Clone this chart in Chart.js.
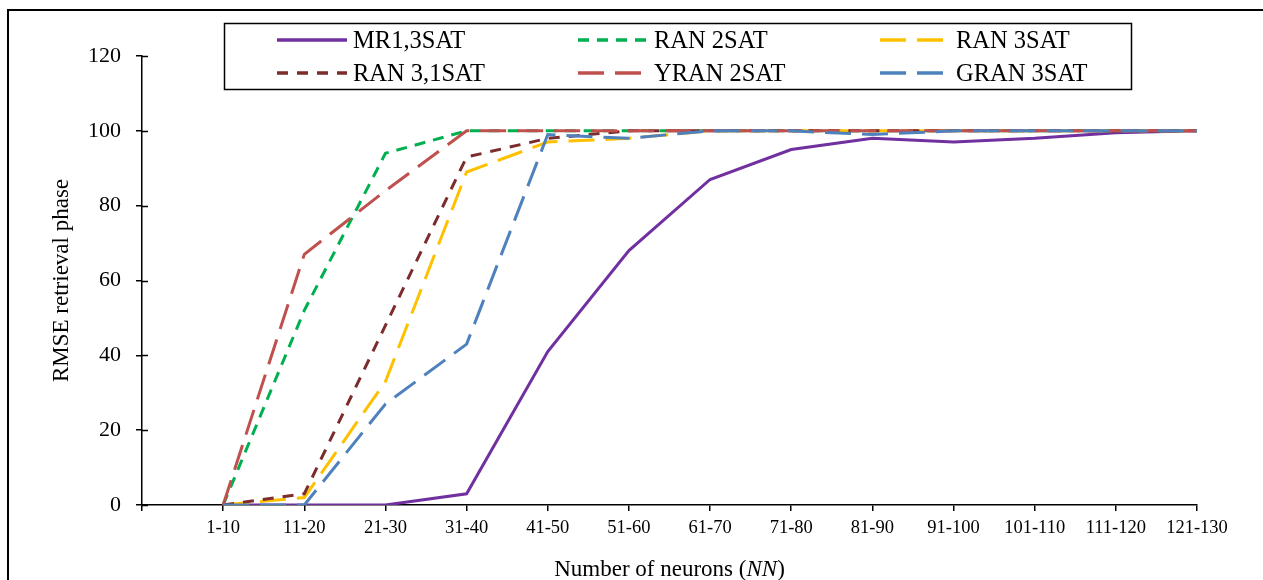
<!DOCTYPE html>
<html>
<head>
<meta charset="utf-8">
<script src="https://cdn.jsdelivr.net/npm/chart.js@4/dist/chart.umd.min.js"></script>
<style>
  html, body { margin: 0; padding: 0; background: #fff; }
  #wrap { position: relative; width: 1263px; height: 580px; }
</style>
</head>
<body>
<div id="wrap"><canvas id="rmseChart"></canvas></div>
<script>
// Data
const categories = ['1-10', '11-20', '21-30', '31-40', '41-50', '51-60', '61-70',
    '71-80', '81-90', '91-100', '101-110', '111-120', '121-130'];
const yTicks = [0, 20, 40, 60, 80, 100, 120];

const mr13sat  = [0, 0, 0, 3, 41, 68, 87, 95, 98, 97, 98, 99.5, 100];
const ran2sat  = [0, 52, 94, 100, 100, 100, 100, 100, 100, 100, 100, 100, 100];
const ran3sat  = [0, 2, 33, 89, 97, 98, 100, 100, 100, 100, 100, 100, 100];
const ran31sat = [0, 3, 48, 93, 98, 100, 100, 100, 100, 100, 100, 100, 100];
const yran2sat = [0, 67, 84, 100, 100, 100, 100, 100, 100, 100, 100, 100, 100];
const gran3sat = [0, 0, 27, 43, 99, 98, 100, 100, 99, 100, 100, 100, 100];

const SERIF = "'Liberation Serif', 'Times New Roman', serif";

// category i sits at x = i + 1 so the y axis gets an empty slot on the left
const toPoints = vals => vals.map((v, i) => ({ x: i + 1, y: v }));

function series(label, vals, color, dash, order) {
    return {
        label,
        data: toPoints(vals),
        borderColor: color,
        backgroundColor: color,
        borderWidth: 3,
        borderDash: dash,
        pointRadius: 0,
        tension: 0,
        fill: false,
        order
    };
}

// frame, inner half of the y ticks, boxed 3-column legend and the x title
const extras = {
    id: 'extras',
    beforeDraw(chart) {
        const ctx = chart.ctx;
        ctx.save();
        ctx.strokeStyle = '#000';
        ctx.lineWidth = 2;
        ctx.strokeRect(8, 10, 2000, 2000);
        ctx.restore();
    },
    afterDraw(chart) {
        const ctx = chart.ctx;
        const y = chart.scales.y;
        const area = chart.chartArea;
        ctx.save();

        ctx.strokeStyle = '#000';
        ctx.lineWidth = 1.5;
        yTicks.forEach(t => {
            const py = Math.round(y.getPixelForValue(t)) + 0.5;
            ctx.beginPath();
            ctx.moveTo(area.left, py);
            ctx.lineTo(area.left + 6, py);
            ctx.stroke();
        });

        // legend box
        ctx.lineWidth = 1.5;
        ctx.strokeRect(224.5, 23.5, 907, 66);
        ctx.font = '24.5px ' + SERIF;
        ctx.fillStyle = '#000';
        ctx.textBaseline = 'alphabetic';
        const colX = [277, 578, 880];
        const rowY = [40, 73];
        chart.data.datasets.forEach((ds, i) => {
            const cx = colX[i % 3];
            const cy = rowY[Math.floor(i / 3)];
            ctx.strokeStyle = ds.borderColor;
            ctx.lineWidth = 3.5;
            ctx.setLineDash(ds.borderDash || []);
            ctx.beginPath();
            ctx.moveTo(cx, cy);
            ctx.lineTo(cx + 70, cy);
            ctx.stroke();
            ctx.setLineDash([]);
            ctx.fillText(ds.label, cx + 76, cy + 8);
        });

        // x axis title with italic NN
        const parts = [
            { t: 'Number of neurons (', f: '23px ' + SERIF },
            { t: 'NN', f: 'italic 23px ' + SERIF },
            { t: ')', f: '23px ' + SERIF }
        ];
        let total = 0;
        parts.forEach(p => { ctx.font = p.f; p.w = ctx.measureText(p.t).width; total += p.w; });
        let tx = (area.left + area.right) / 2 - total / 2;
        ctx.textAlign = 'left';
        parts.forEach(p => { ctx.font = p.f; ctx.fillText(p.t, tx, 576); tx += p.w; });

        ctx.restore();
    }
};

const ctx = document.getElementById('rmseChart').getContext('2d');

new Chart(ctx, {
    type: 'line',
    data: {
        datasets: [
            series('MR1,3SAT', mr13sat, '#7030A0', [], 6),
            series('RAN 2SAT', ran2sat, '#00B050', [11, 8], 5),
            series('RAN 3SAT', ran3sat, '#FFC000', [26, 11], 4),
            series('RAN 3,1SAT', ran31sat, '#7B2C2C', [11, 9], 3),
            series('YRAN 2SAT', yran2sat, '#C0504D', [26, 11], 2),
            series('GRAN 3SAT', gran3sat, '#4F81BD', [26, 11], 1)
        ]
    },
    options: {
        responsive: true,
        maintainAspectRatio: false,
        animation: false,
        layout: { padding: { left: 0, right: 66, top: 56, bottom: 0 } },
        plugins: {
            legend: { display: false },
            tooltip: { enabled: false }
        },
        scales: {
            x: {
                type: 'linear',
                min: 0,
                max: categories.length,
                afterFit: scale => { scale.height = 75; },
                afterBuildTicks: scale => {
                    scale.ticks = Array.from({ length: categories.length + 1 }, (_, i) => ({ value: i }));
                },
                ticks: {
                    autoSkip: false,
                    maxRotation: 0,
                    padding: 6,
                    color: '#000',
                    font: { family: SERIF, size: 18.5 },
                    callback: v => categories[v - 1] || ''
                },
                grid: { display: true, drawOnChartArea: false, drawTicks: true, tickLength: 6, color: '#000', lineWidth: 1.5 },
                border: { display: true, color: '#000', width: 1.5 }
            },
            y: {
                min: 0,
                max: 120,
                afterFit: scale => { scale.width = 142; },
                afterBuildTicks: scale => {
                    scale.ticks = yTicks.map(v => ({ value: v }));
                },
                ticks: {
                    padding: 15,
                    color: '#000',
                    font: { family: SERIF, size: 22 }
                },
                title: {
                    display: true,
                    text: 'RMSE retrieval phase',
                    color: '#000',
                    font: { family: SERIF, size: 23 },
                    padding: { top: 48, bottom: 0 }
                },
                grid: { display: true, drawOnChartArea: false, drawTicks: true, tickLength: 6, color: '#000', lineWidth: 1.5 },
                border: { display: true, color: '#000', width: 1.5 }
            }
        }
    },
    plugins: [extras]
});
</script>
</body>
</html>
